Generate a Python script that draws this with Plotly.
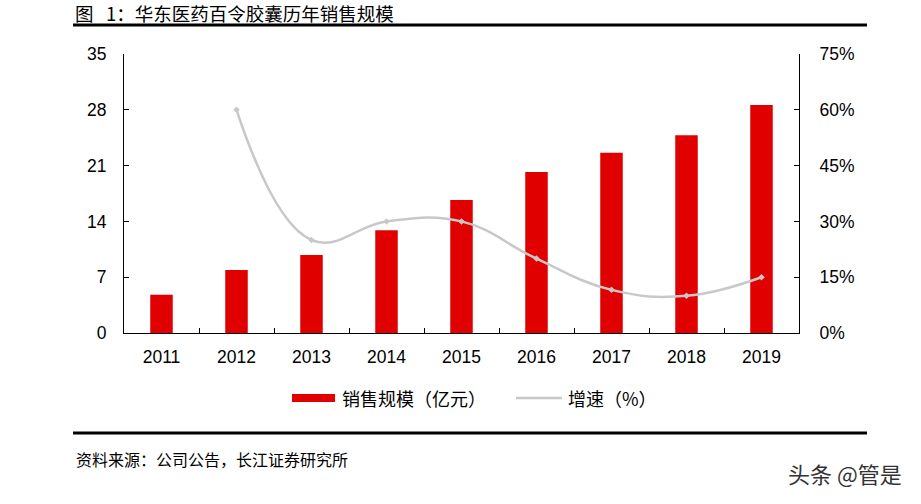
import plotly.graph_objects as go

years = ["2011", "2012", "2013", "2014", "2015", "2016", "2017", "2018", "2019"]
sales = [4.8, 7.9, 9.8, 12.9, 16.7, 20.2, 22.6, 24.8, 28.6]
growth_years = ["2012", "2013", "2014", "2015", "2016", "2017", "2018", "2019"]
growth = [0.60, 0.25, 0.30, 0.30, 0.20, 0.116, 0.10, 0.15]
left_ticks = [0, 7, 14, 21, 28, 35]
right_ticks = [0, 0.15, 0.30, 0.45, 0.60, 0.75]
right_labels = ["0%", "15%", "30%", "45%", "60%", "75%"]

title = "图\u00a0\u00a0\u00a01：华东医药百令胶囊历年销售规模"
source = "资料来源：公司公告，长江证券研究所"
watermark = "头条 @管是"
bar_name = "销售规模（亿元）"
line_name = "增速（%）"

RED = "#e00000"
GRAY = "#c8c8c8"
NUM = "Liberation Sans, Arial, sans-serif"
CJK = "Noto Sans CJK SC, sans-serif"

W, H = 921, 504
SL, SR, ST, SB = 124, 799, 54, 333
L, R, T, B = SL, SR, ST, SB


def px(x):
    return (x - SL) / (SR - SL)


def py(y):
    return (SB - y) / (SB - ST)


fig = go.Figure()
fig.add_trace(go.Bar(x=years, y=sales, name=bar_name, marker=dict(color=RED, line=dict(width=0)),
                     width=0.3, yaxis="y", showlegend=False))
fig.add_trace(go.Scatter(x=growth_years, y=growth, name=line_name, mode="lines+markers",
                         line=dict(color=GRAY, width=2.5, shape="spline", smoothing=1.2),
                         marker=dict(color=GRAY, size=5, symbol="diamond"),
                         yaxis="y2", showlegend=False))

fig.update_layout(
    width=W, height=H,
    margin=dict(l=L, r=W - R, t=T, b=H - B, pad=0),
    plot_bgcolor="white", paper_bgcolor="white",
    xaxis=dict(type="category", showline=True, linecolor="#000", linewidth=1.2,
               ticks="inside", ticklen=5, tickcolor="#000", tickson="boundaries",
               tickfont=dict(family=NUM, size=17.5, color="#000"), showgrid=False,
               zeroline=False, ticklabelstandoff=8),
    yaxis=dict(range=[0, 35], tickvals=left_ticks, showline=True, linecolor="#000", linewidth=1.2,
               ticks="inside", ticklen=5, tickcolor="#000", showgrid=False, zeroline=False,
               tickfont=dict(family=NUM, size=17.5, color="#000"), ticklabelstandoff=13),
    yaxis2=dict(range=[0, 0.75], tickvals=right_ticks, ticktext=right_labels, overlaying="y",
                side="right", showline=True, linecolor="#000", linewidth=1.2,
                ticks="inside", ticklen=5, tickcolor="#000", showgrid=False, zeroline=False,
                tickfont=dict(family=NUM, size=17.5, color="#000"), ticklabelstandoff=16),
    showlegend=False,
)

shapes = [
    dict(type="line", xref="paper", yref="paper", x0=px(73), x1=px(867), y0=py(25), y1=py(25),
         line=dict(color="#000", width=3)),
    dict(type="line", xref="paper", yref="paper", x0=px(73), x1=px(867), y0=py(433), y1=py(433),
         line=dict(color="#000", width=3)),
    # legend
    dict(type="rect", xref="paper", yref="paper", x0=px(292), x1=px(335), y0=py(402), y1=py(394),
         fillcolor=RED, line=dict(width=0)),
    dict(type="line", xref="paper", yref="paper", x0=px(516), x1=px(562), y0=py(398), y1=py(398),
         line=dict(color=GRAY, width=2.5)),
]
fig.update_layout(shapes=shapes)

anns = [
    dict(text=title, x=px(73), y=py(13), xanchor="left", yanchor="middle",
         font=dict(family=CJK, size=18.5, color="#000")),
    dict(text=source, x=px(74), y=py(459), xanchor="left", yanchor="middle",
         font=dict(family=CJK, size=16, color="#000")),
    dict(text=watermark, x=px(904), y=py(473), xanchor="right", yanchor="middle",
         font=dict(family=CJK, size=22, color="#333")),
    dict(text=bar_name, x=px(340), y=py(398), xanchor="left", yanchor="middle",
         font=dict(family=CJK, size=18, color="#000")),
    dict(text=line_name, x=px(566), y=py(398), xanchor="left", yanchor="middle",
         font=dict(family=CJK, size=18, color="#000")),
]
for a in anns:
    fig.add_annotation(xref="paper", yref="paper", showarrow=False, **a)

fig.add_trace(go.Scatter(x=[px(539)], y=[py(398)], xaxis="x2", yaxis="y3", mode="markers",
                         marker=dict(color=GRAY, size=5, symbol="diamond"), showlegend=False,
                         hoverinfo="skip"))
fig.update_layout(
    xaxis2=dict(range=[0, 1], domain=[0, 1], visible=False, overlaying="x", anchor="y3"),
    yaxis3=dict(range=[0, 1], domain=[0, 1], visible=False, overlaying="y", anchor="x2"),
)
fig.update_traces(cliponaxis=False, selector=dict(type="scatter"))

fig.write_html("out.html", config={"displayModeBar": False},
               post_script="document.body.style.margin='0';document.body.style.padding='0';")
